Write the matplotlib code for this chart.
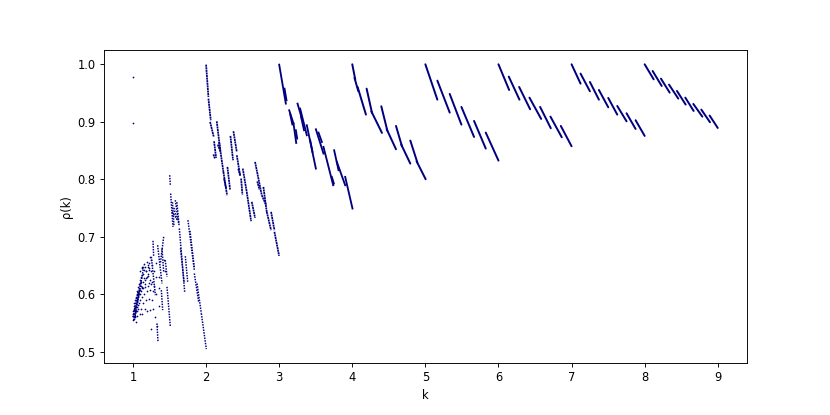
import matplotlib

matplotlib.use("Agg")

import matplotlib.pyplot as plt

COLOR = "navy"

# =========================
# SOLID STROKES (k >= 4)
# =========================

k4_start = [4.000, 4.030, 4.073, 4.196, 4.260, 4.397, 4.470, 4.598, 4.670, 4.794, 4.880]
k4_end = [4.041, 4.082, 4.187, 4.270, 4.406, 4.480, 4.598, 4.680, 4.794, 4.890, 5.004]
k4_top = [0.9995, 0.9760, 0.9600, 0.9572, 0.9180, 0.9266, 0.8870, 0.8924, 0.8600, 0.8670, 0.8310]
k4_bottom = [0.9730, 0.9530, 0.9121, 0.9150, 0.8803, 0.8840, 0.8519, 0.8570, 0.8270, 0.8290, 0.7998]

k5_start = [5.000, 5.164, 5.333, 5.493, 5.666, 5.826]
k5_end = [5.164, 5.333, 5.493, 5.666, 5.826, 6.000]
k5_top = [0.9995, 0.9711, 0.9480, 0.9254, 0.9011, 0.8809]
k5_bottom = [0.9381, 0.9156, 0.8947, 0.8733, 0.8531, 0.8322]

k6_start = [6.000, 6.141, 6.283, 6.424, 6.570, 6.711, 6.853]
k6_end = [6.146, 6.287, 6.433, 6.584, 6.716, 6.866, 7.000]
k6_top = [0.9995, 0.9781, 0.9601, 0.9416, 0.9254, 0.9086, 0.8924]
k6_bottom = [0.9549, 0.9381, 0.9214, 0.9046, 0.8884, 0.8727, 0.8571]

k7_start = [7.000, 7.123, 7.251, 7.374, 7.502, 7.625, 7.752, 7.876]
k7_end = [7.123, 7.251, 7.374, 7.502, 7.625, 7.752, 7.876, 8.000]
k7_top = [0.9995, 0.9833, 0.9688, 0.9549, 0.9410, 0.9271, 0.9144, 0.9023]
k7_bottom = [0.9659, 0.9526, 0.9381, 0.9248, 0.9121, 0.9005, 0.8872, 0.8751]

k8_start = [8.000, 8.109, 8.223, 8.333, 8.442, 8.556, 8.666, 8.775, 8.889]
k8_end = [8.123, 8.233, 8.342, 8.460, 8.561, 8.670, 8.789, 8.894, 9.000]
k8_top = [0.9995, 0.9879, 0.9746, 0.9642, 0.9532, 0.9416, 0.9306, 0.9208, 0.9104]
k8_bottom = [0.9734, 0.9619, 0.9503, 0.9399, 0.9295, 0.9185, 0.9086, 0.8988, 0.8889]

# =========================
# BROKEN STROKES (2 <= k < 4)
# =========================

k2_start = [2.000, 2.032, 2.055, 2.100, 2.109, 2.146, 2.160, 2.178, 2.237, 2.292, 2.246, 2.333, 2.374,
            2.420, 2.440, 2.502, 2.479, 2.556, 2.625, 2.670, 2.700, 2.784, 2.762, 2.830, 2.889, 2.935]
k2_end = [2.032, 2.064, 2.105, 2.120, 2.137, 2.196, 2.190, 2.237, 2.287, 2.328, 2.274, 2.369, 2.420,
          2.465, 2.470, 2.556, 2.497, 2.616, 2.670, 2.762, 2.730, 2.830, 2.821, 2.889, 2.935, 2.999]
k2_top = [0.9989, 0.9399, 0.8994, 0.8430, 0.8658, 0.9005, 0.8600, 0.8646, 0.8125, 0.8212, 0.8010, 0.8751, 0.8832,
          0.8415, 0.8180, 0.8183, 0.8010, 0.7778, 0.7605, 0.8299, 0.7960, 0.7865, 0.7720, 0.7431, 0.7431, 0.7084]
k2_bottom = [0.9428, 0.9023, 0.8733, 0.8360, 0.8369, 0.8473, 0.8500, 0.8125, 0.7720, 0.7819, 0.7836, 0.8328, 0.8473,
             0.8068, 0.8050, 0.7778, 0.7732, 0.7269, 0.7327, 0.7720, 0.7820, 0.7431, 0.7547, 0.7113, 0.7113, 0.6667]

k3_start = [3.000, 3.073, 3.137, 3.150, 3.196, 3.228, 3.251, 3.287, 3.300, 3.378, 3.424, 3.502, 3.538,
            3.606, 3.720, 3.752, 3.789, 3.903]
k3_end = [3.091, 3.100, 3.196, 3.180, 3.233, 3.246, 3.310, 3.378, 3.340, 3.502, 3.456, 3.606, 3.584,
          3.739, 3.748, 3.812, 3.903, 4.003]
k3_top = [0.9989, 0.9572, 0.9196, 0.9130, 0.8965, 0.8849, 0.9312, 0.9225, 0.9080, 0.8936, 0.8675, 0.8866, 0.8808,
          0.8560, 0.8039, 0.8502, 0.8299, 0.8039]
k3_bottom = [0.9312, 0.9370, 0.8965, 0.8950, 0.8629, 0.8704, 0.9052, 0.8762, 0.8850, 0.8183, 0.8473, 0.8444, 0.8646,
             0.7894, 0.7923, 0.8155, 0.7894, 0.7489]

# =========================
# DOTTED STROKES (1 < k < 2)
# =========================

k1_start = [1.502, 1.515, 1.579, 1.534, 1.540, 1.560, 1.600, 1.634, 1.650, 1.716, 1.752, 1.780, 1.839, 1.876, 1.935,
            1.274, 1.251, 1.337, 1.420, 1.397, 1.388, 1.465, 1.328, 1.442,
            1.000, 1.010, 1.030, 1.060]
k1_end = [1.511, 1.547, 1.625, 1.611, 1.560, 1.600, 1.630, 1.707, 1.700, 1.748, 1.839, 1.840, 1.898, 1.935, 2.003,
          1.283, 1.306, 1.397, 1.374, 1.420, 1.406, 1.511, 1.342, 1.465,
          1.070, 1.090, 1.120, 1.150]
k1_top = [0.8068, 0.7750, 0.7634, 0.7431, 0.7600, 0.7500, 0.7600, 0.7142, 0.6800, 0.6661, 0.7287, 0.7100, 0.6361, 0.6187, 0.5666,
          0.6928, 0.6650, 0.6852, 0.6997, 0.6795, 0.6071, 0.6129, 0.5492, 0.6592,
          0.5600, 0.5550, 0.5620, 0.5850]
k1_bottom = [0.7894, 0.7171, 0.7229, 0.7287, 0.7200, 0.7300, 0.7200, 0.6042, 0.6200, 0.6216, 0.6418, 0.6450, 0.5869, 0.5666, 0.5047,
             0.6650, 0.5984, 0.6187, 0.6534, 0.6389, 0.5724, 0.5435, 0.5174, 0.6303,
             0.6050, 0.6100, 0.6300, 0.6500]

# =========================
# LOOSE POINTS (k < 1.45)
# =========================

loose_k = [1.000, 1.000, 1.000, 1.000, 1.005, 1.005, 1.010, 1.010, 1.015, 1.015, 1.020, 1.020, 1.020,
           1.025, 1.030, 1.030, 1.030, 1.035, 1.035, 1.040, 1.040, 1.045, 1.050, 1.050, 1.050,
           1.055, 1.060, 1.060, 1.065, 1.070, 1.070, 1.075, 1.080, 1.080, 1.085, 1.090, 1.090,
           1.095, 1.100, 1.100, 1.105, 1.110, 1.110, 1.115, 1.120, 1.120, 1.123, 1.123, 1.125,
           1.130, 1.135, 1.140, 1.146, 1.150, 1.155, 1.160, 1.160, 1.165, 1.169, 1.175, 1.180,
           1.185, 1.192, 1.195, 1.200, 1.205, 1.210, 1.214, 1.214, 1.220, 1.225, 1.230, 1.237,
           1.237, 1.240, 1.245, 1.251, 1.255, 1.260, 1.265, 1.270, 1.280, 1.285, 1.290, 1.295,
           1.310, 1.315, 1.320, 1.325, 1.350, 1.355, 1.360, 1.430, 1.435,
           1.012, 1.022, 1.033, 1.044, 1.052, 1.063, 1.072, 1.083, 1.093, 1.102, 1.113, 1.122,
           1.132, 1.142, 1.152, 1.162, 1.172, 1.182, 1.192, 1.202, 1.212, 1.222, 1.232, 1.242]
loose_rho = [0.978, 0.897, 0.562, 0.570, 0.556, 0.566, 0.575, 0.560, 0.580, 0.565, 0.557, 0.572, 0.585,
             0.568, 0.590, 0.578, 0.560, 0.552, 0.583, 0.595, 0.570, 0.585, 0.600, 0.578, 0.562,
             0.590, 0.570, 0.605, 0.582, 0.612, 0.595, 0.575, 0.600, 0.618, 0.585, 0.565, 0.608,
             0.625, 0.590, 0.640, 0.605, 0.575, 0.615, 0.630, 0.595, 0.645, 0.633, 0.647, 0.565,
             0.610, 0.622, 0.585, 0.652, 0.600, 0.628, 0.648, 0.575, 0.612, 0.618, 0.640, 0.590,
             0.656, 0.605, 0.570, 0.632, 0.615, 0.648, 0.645, 0.592, 0.620, 0.655, 0.608, 0.625,
             0.572, 0.640, 0.660, 0.540, 0.590, 0.622, 0.650, 0.605, 0.575, 0.640, 0.615, 0.560,
             0.630, 0.600, 0.655, 0.545, 0.580, 0.630, 0.610, 0.660, 0.640,
             0.570, 0.563, 0.572, 0.593, 0.588, 0.598, 0.604, 0.610, 0.600, 0.620, 0.622, 0.612,
             0.635, 0.610, 0.642, 0.625, 0.628, 0.640, 0.630, 0.650, 0.635, 0.642, 0.665, 0.618]


def draw_strokes(ax, starts, ends, tops, bottoms, **style):

    for k0, k1, top, bottom in zip(starts, ends, tops, bottoms):

        ax.plot(
            [k0, k1],
            [top, bottom],
            color=COLOR,
            **style,
        )


fig, ax = plt.subplots(figsize=(10, 5), dpi=83)

fig.subplots_adjust(left=0.125, right=0.9, top=0.88, bottom=0.125)

solid = dict(linewidth=1.7, solid_capstyle="round")

draw_strokes(ax, k4_start, k4_end, k4_top, k4_bottom, **solid)
draw_strokes(ax, k5_start, k5_end, k5_top, k5_bottom, **solid)
draw_strokes(ax, k6_start, k6_end, k6_top, k6_bottom, **solid)
draw_strokes(ax, k7_start, k7_end, k7_top, k7_bottom, **solid)
draw_strokes(ax, k8_start, k8_end, k8_top, k8_bottom, **solid)

draw_strokes(ax, k3_start, k3_end, k3_top, k3_bottom, linewidth=1.6)
draw_strokes(ax, k2_start, k2_end, k2_top, k2_bottom, linewidth=1.5, linestyle=(0, (1.2, 0.3)))

draw_strokes(ax, k1_start, k1_end, k1_top, k1_bottom, linewidth=1.3, linestyle=(0, (1, 0.8)))

ax.scatter(loose_k, loose_rho, s=2.2, color=COLOR, linewidths=0)

ax.set_xlim(0.6, 9.4)
ax.set_ylim(0.4803, 1.0247)

ax.set_xlabel("k")
ax.set_ylabel("ρ(k)")

fig.savefig("out.png", dpi=83)
